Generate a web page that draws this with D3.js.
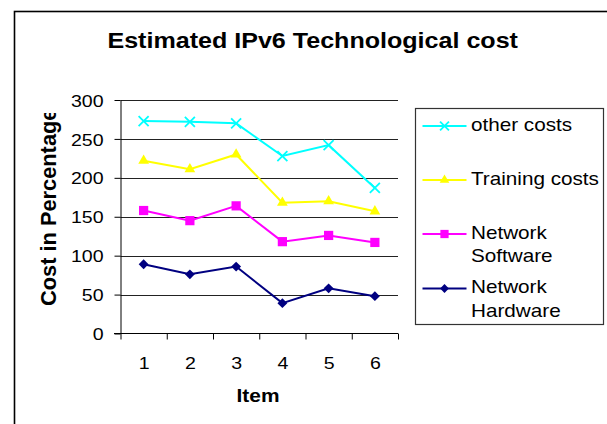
<!DOCTYPE html>
<html>
<head>
<meta charset="utf-8">
<script src="https://cdn.jsdelivr.net/npm/d3@7"></script>
<style>
  body { margin: 0; background: #fff; }
  text { font-family: Arial, "Liberation Sans", sans-serif; fill: #000; }
</style>
</head>
<body>
<script>
// chart values
var items = [1, 2, 3, 4, 5, 6];
var otherCosts = [273, 272, 270, 228, 242, 187];
var trainingCosts = [222, 211, 230, 168, 170, 157];
var networkSoftware = [158, 145, 164, 118, 126, 117];
var networkHardware = [89, 76, 86, 39, 58, 48];
var yTicks = [0, 50, 100, 150, 200, 250, 300];

var width = 607, height = 424;

var svg = d3.select("body").append("svg")
    .attr("width", width)
    .attr("height", height);

// outer frame (runs off right and bottom edge)
svg.append("rect")
    .attr("x", 14.5).attr("y", 11.5)
    .attr("width", 700).attr("height", 500)
    .attr("fill", "none")
    .attr("stroke", "#000")
    .attr("stroke-width", 1.6);

var x = d3.scaleLinear().domain([0.5, 6.5]).range([120.5, 398]);
var y = d3.scaleLinear().domain([0, 300]).range([333.5, 100]);

var series = [
    {name: ["other costs"], values: otherCosts, color: "#00ffff", symbol: d3.symbolTimes, size: 67, stroke: true},
    {name: ["Training costs"], values: trainingCosts, color: "#ffff00", symbol: d3.symbolTriangle, size: 50},
    {name: ["Network", "Software"], values: networkSoftware, color: "#ff00ff", symbol: d3.symbolSquare, size: 85},
    {name: ["Network", "Hardware"], values: networkHardware, color: "#000080", symbol: d3.symbolDiamond2 || d3.symbolDiamond, size: 62}
];

// gridlines
svg.append("g")
    .selectAll("line")
    .data(yTicks.filter(function(d) { return d > 0; }))
    .enter().append("line")
    .attr("x1", x(0.5)).attr("x2", x(6.5))
    .attr("y1", function(d) { return Math.round(y(d)) + 0.5; })
    .attr("y2", function(d) { return Math.round(y(d)) + 0.5; })
    .attr("stroke", "#222")
    .attr("stroke-width", 1);

// y axis
var yAxis = svg.append("g")
    .attr("transform", "translate(" + x(0.5) + ",0)")
    .call(d3.axisLeft(y).tickValues(yTicks).tickSize(6).tickPadding(11).tickSizeOuter(0));
yAxis.select(".domain").attr("stroke", "#000");
yAxis.selectAll("line").attr("stroke", "#000");
yAxis.selectAll("text")
    .attr("font-size", 17)
    .attr("font-family", "Arial, 'Liberation Sans', sans-serif")
    .attr("dy", "0.36em");
yAxis.selectAll("text").each(function() {
    var t = d3.select(this);
    var tx = +t.attr("x");
    t.attr("x", 0).attr("transform", "translate(" + tx + ",0) scale(1.15,1)");
});

// x axis: ticks at category edges, labels at centres
var xAxis = svg.append("g")
    .attr("transform", "translate(0," + y(0) + ")")
    .call(d3.axisBottom(x).tickValues(d3.range(0.5, 7, 1)).tickSize(6).tickSizeOuter(0).tickFormat(""));
xAxis.select(".domain").attr("stroke", "#000").attr("d", "M114,0H" + x(6.5));
xAxis.selectAll("line").attr("stroke", "#000");

var xLabels = svg.append("g")
    .attr("transform", "translate(0," + y(0) + ")")
    .call(d3.axisBottom(x).tickValues(items).tickSize(0).tickPadding(0).tickFormat(d3.format("d")));
xLabels.select(".domain").remove();
xLabels.selectAll("text")
    .attr("font-size", 17)
    .attr("font-family", "Arial, 'Liberation Sans', sans-serif")
    .attr("dy", null)
    .attr("y", 0)
    .attr("transform", "translate(0,35) scale(1.15,1)");

// lines and markers
var line = d3.line()
    .x(function(d, i) { return x(items[i]); })
    .y(function(d) { return y(d); });

series.forEach(function(s) {
    svg.append("path")
        .datum(s.values)
        .attr("d", line)
        .attr("fill", "none")
        .attr("stroke", s.color)
        .attr("stroke-width", 2);

    svg.append("g").selectAll("path")
        .data(s.values)
        .enter().append("path")
        .attr("transform", function(d, i) { return "translate(" + x(items[i]) + "," + y(d) + ")"; })
        .attr("d", d3.symbol().type(s.symbol).size(s.size))
        .attr("fill", s.stroke ? "none" : s.color)
        .attr("stroke", s.color)
        .attr("stroke-width", s.stroke ? 1.8 : 0);
});

// title
svg.append("text")
    .attr("transform", "translate(312.7,48.3) scale(1.14,1)")
    .attr("text-anchor", "middle")
    .attr("font-size", 22)
    .attr("font-weight", "bold")
    .text("Estimated IPv6 Technological cost");

// axis titles
svg.append("text")
    .attr("transform", "translate(258,401.5) scale(1.1,1)")
    .attr("text-anchor", "middle")
    .attr("font-size", 19)
    .attr("font-weight", "bold")
    .text("Item");

svg.append("clipPath").attr("id", "ylab-clip")
    .append("rect").attr("x", 0).attr("y", 113).attr("width", 110).attr("height", 311);

svg.append("g").attr("clip-path", "url(#ylab-clip)")
    .append("text")
    .attr("transform", "translate(56,306) rotate(-90)")
    .attr("text-anchor", "start")
    .attr("font-size", 21.8)
    .attr("font-weight", "bold")
    .text("Cost in Percentage");

// legend
var legend = svg.append("g");
legend.append("rect")
    .attr("x", 415.5).attr("y", 108.5)
    .attr("width", 188).attr("height", 216)
    .attr("fill", "#fff")
    .attr("stroke", "#333")
    .attr("stroke-width", 1.2);

var rowY = [126, 180, 234, 288.5];
var item = legend.selectAll(".item")
    .data(series)
    .enter().append("g")
    .attr("class", "item")
    .attr("transform", function(d, i) { return "translate(0," + rowY[i] + ")"; });

item.append("line")
    .attr("x1", 422.5).attr("x2", 466.5)
    .attr("stroke", function(d) { return d.color; })
    .attr("stroke-width", 2);

item.append("path")
    .attr("transform", "translate(444.5,0)")
    .attr("d", function(d) { return d3.symbol().type(d.symbol).size(d.size * 0.8)(); })
    .attr("fill", function(d) { return d.stroke ? "none" : d.color; })
    .attr("stroke", function(d) { return d.color; })
    .attr("stroke-width", function(d) { return d.stroke ? 1.8 : 0; });

item.each(function(d) {
    var g = d3.select(this);
    d.name.forEach(function(n, j) {
        g.append("text")
            .attr("transform", "translate(471," + (4.5 + j * 23.5) + ") scale(1.15,1)")
            .attr("font-size", 18)
            .text(n);
    });
});
</script>
</body>
</html>
